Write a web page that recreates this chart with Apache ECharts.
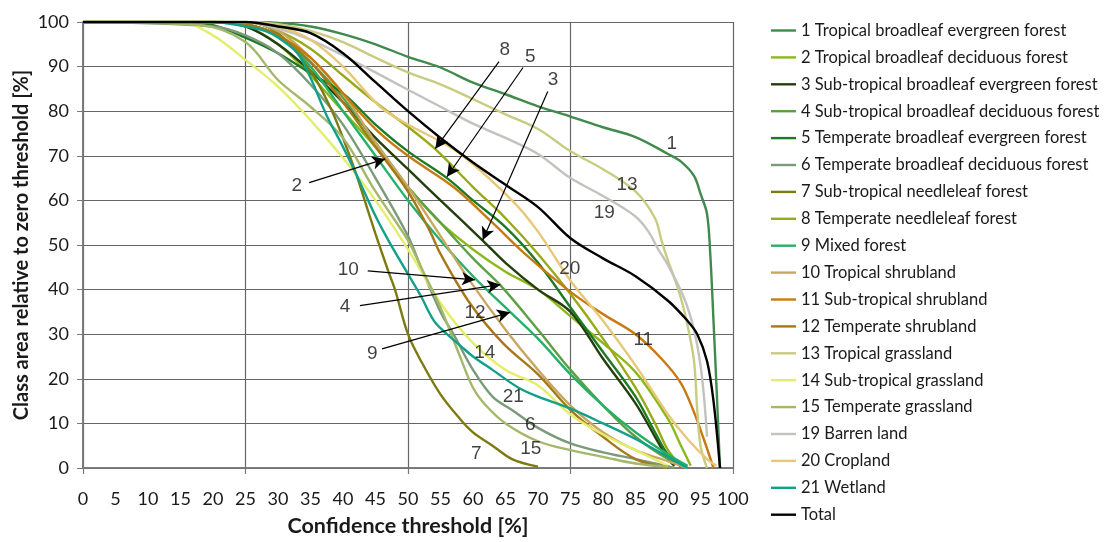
<!DOCTYPE html>
<html><head><meta charset="utf-8">
<script src="https://cdn.jsdelivr.net/npm/echarts@6/dist/echarts.min.js"></script>
<style>html,body{margin:0;padding:0;background:#fff}#c{width:1111px;height:542px}</style>
</head><body><div id="c"></div>
<script>
// x = confidence threshold [%], y = class area relative to zero threshold [%]
const s1 = [[0,100],[25,100],[30,99.8],[35,99],[40,97.3],[45,95],[50,92.2],[55,89.8],[60,86.4],[65,83.8],[70,81.1],[75,78.8],[80,76.4],[85,74.2],[90,70.4],[92,68.7],[94,65.5],[95,61.5],[96,57],[96.5,48],[97,33],[97.5,17],[98,0]];
const s2 = [[0,100],[20,100],[25,99],[30,95],[35,88],[40,80],[45,72],[46.5,69.3],[50,63],[55,55],[60,49],[65,44],[70,40],[75,34],[80,28],[85,21.5],[90,11],[92,5],[93.5,0.5]];
const s3 = [[0,100],[20,100],[25,99],[30,95],[35,89],[40,82],[45,74],[50,67],[55,60],[61.5,51],[65,46],[70,40],[75,35],[80,24.5],[85,14.5],[88,7],[90,2],[91,0.5]];
const s4 = [[0,100],[20,100],[25,99.5],[30,97],[35,91],[40,83],[45,73],[50,63],[55,55],[60,47],[64.2,41],[70,31],[75,22],[80,14],[85,7],[90,2],[93,0.3]];
const s5 = [[0,100],[15,100],[20,99.3],[25,96.5],[30,93],[35,88.5],[40,84],[45,77],[50,71],[56,65],[60,60],[65,54],[70,46],[75,36],[80,26],[85,16],[88,8],[90,3],[92,0.3]];
const s6 = [[0,100],[20,99],[25,97],[30,93],[35,86],[40,77],[45,65],[50,52],[52,45],[55,35],[57,30],[60,22],[63,16],[66,13],[70,9],[75,5.5],[80,3.5],[85,2],[88,1],[91,0]];
const s7 = [[0,100],[25,100],[30,97.5],[35,89],[38,81],[40,74],[42,66],[44,57],[45,52.5],[47,44],[48,40],[50,30],[52,24],[55,16.5],[58,11],[60,8],[63,5],[66,2],[70,0.3]];
const s8 = [[0,100],[25,100],[30,98],[35,94],[40,88],[45,82],[50,76.5],[54.2,71.5],[60,63],[65,56],[70,48],[75,39],[80,29],[85,18],[88,10],[90,4],[92,0.5]];
const s9 = [[0,100],[20,100],[25,99.5],[30,97],[35,90],[40,80],[45,70],[50,60],[55,51],[60,43],[65.7,35],[70,29],[75,21],[80,14],[85,8],[90,3],[93,0.5]];
const s10 = [[0,100],[25,100],[30,98],[35,92],[40,84],[45,73],[50,63],[55,52],[59.5,42],[65,31],[70,22],[75,14],[80,8],[85,4],[90,1.5],[93,0]];
const s11 = [[0,100],[20,100],[25,99.5],[30,97],[35,92],[40,84],[45,76],[50,70],[57,63],[63,55],[68,48],[75,39.5],[80,34.5],[85,30],[89,24.5],[92,19],[94,12.5],[95.5,6.5],[97,0]];
const s12 = [[0,100],[20,100],[25,99.5],[30,97],[35,91],[40,82],[45,72],[50,62],[53.4,53],[55,48],[59.5,37],[64.6,28],[70,21],[75,13],[80,7],[85,2],[90,0]];
const s13 = [[0,100],[25,100],[30,99.5],[35,98],[40,95.5],[45,92],[50,88.7],[55,86],[60,82.7],[65,79.3],[70,76],[75,71],[80,67],[85,62],[88,56],[89,51],[90,46.5],[91,42.5],[92,38],[93,32],[94,24],[94.5,13],[95,5],[96,0]];
const s14 = [[0,100],[15,100],[20,97],[25,91.5],[30,85.5],[35,78],[40,69.5],[45,60],[50,49],[55,37],[60,28],[65,22],[70,18.5],[75,12],[80,7.5],[85,4],[90,0.5]];
const s15 = [[0,100],[18,99.3],[25,95.5],[30,87],[35,81],[40,74],[45,62],[50,51],[52,45],[55,36],[58,25],[60,18],[62,14],[65,10],[70,6],[75,4],[80,2.5],[85,1],[90,0.3]];
const s19 = [[0,100],[25,100],[30,98.5],[35,96],[40,92.5],[45,88.7],[50,84.8],[55,81],[60,77.2],[65,74],[70,70.4],[75,65],[80,61],[85,56.4],[87,53],[88.5,49],[90,45.5],[92.5,38],[94,31],[95,23],[95.6,15],[96,7]];
const s20 = [[0,100],[25,100],[30,99],[35,96],[40,90],[45.7,81],[50,77],[57.5,71],[66,60],[70,53],[75,42],[80,33],[85,23],[90,12],[93,6.5],[96,2],[97.5,0.5]];
const s21 = [[0,100],[20,100],[25,99],[28,98],[30,96.5],[33,93],[35,87.5],[37.5,79],[40,72],[42,66],[45,56.5],[47,51],[50,43.5],[52,38.5],[54,33],[56,30],[58,27.5],[60,25],[63,22],[67,18],[70,16],[75,13.3],[80,10],[85,6.5],[90,2.5],[93,0]];
const sTotal = [[0,100],[25,100],[30,99],[35,97.5],[40,93],[45,86.5],[50,80],[55,74],[60,68.5],[65,63.5],[70,58.5],[75,51.5],[80,47],[85,43],[90,37.5],[93,33],[94.5,30],[96,24],[97,15],[98,0]];

const seriesNames = ['1 Tropical broadleaf evergreen forest','2 Tropical broadleaf deciduous forest','3 Sub-tropical broadleaf evergreen forest','4 Sub-tropical broadleaf deciduous forest','5 Temperate broadleaf evergreen forest','6 Temperate broadleaf deciduous forest','7 Sub-tropical needleleaf forest','8 Temperate needleleaf forest','9 Mixed forest','10 Tropical shrubland','11 Sub-tropical shrubland','12 Temperate shrubland','13 Tropical grassland','14 Sub-tropical grassland','15 Temperate grassland','19 Barren land','20 Cropland','21 Wetland','Total'];
const seriesData = [s1,s2,s3,s4,s5,s6,s7,s8,s9,s10,s11,s12,s13,s14,s15,s19,s20,s21,sTotal];
const seriesColors = ['#3f8a4c','#8cb81e','#243f0e','#5ca044','#1c7a22','#7a9a7a','#7d7a12','#98aa18','#26b06a','#c8a860','#c87a12','#a67818','#c8cc80','#e4ee6a','#a4b86c','#c2c2be','#e8c878','#12a08a','#000000'];

const xTicks = [0,5,10,15,20,25,30,35,40,45,50,55,60,65,70,75,80,85,90,95,100];
const yTicks = [0,10,20,30,40,50,60,70,80,90,100];

// curve labels placed in data coordinates
const curveLabels = [['1',90.6,72.7],['13',83.7,63.6],['19',80.2,57.3],['20',74.9,44.7],['11',86.2,28.7],['12',60.3,34.9],['14',61.8,25.8],['21',66.2,16],['6',68.8,9.8],['15',68.9,4.4],['7',60.5,3.3],
  ['8',64.9,93.8],['5',68.8,92.2],['3',72.3,87.1],['2',32.9,63.3],['10',40.8,44.4],['4',40.3,36.2],['9',44.5,25.6]];
// arrows: from label to curve, in data coordinates
const arrows = [[64,91.1,54.2,71.6],[67.7,89.8,56,65.3],[71.5,84.4,61.5,51.1],[34.8,64,46.5,69.3],[43.8,44.2,60.3,42.2],[42.6,36.4,64.2,41.1],[46,26.7,65.7,34.9]];

const font = 'Lato';
const chart = echarts.init(document.getElementById('c'), null, {renderer:'canvas'});
const series = seriesData.map((d,i)=>({
  name: seriesNames[i], type:'line', data:d, xAxisIndex:0, yAxisIndex:0,
  smooth:0.35, symbol:'none', lineStyle:{width:2.4,color:seriesColors[i]}, itemStyle:{color:seriesColors[i]},
  z: i===seriesData.length-1 ? 5 : 3, animation:false
}));
series.push({
  type:'scatter', xAxisIndex:0, yAxisIndex:0, symbolSize:0, silent:true, animation:false, z:6,
  data: curveLabels.map(l=>({value:[l[1],l[2]], label:{formatter:l[0]}})),
  label:{show:true, position:'inside', color:'#111', fontFamily:'Liberation Sans', fontSize:19}
});
series.push({
  type:'line', xAxisIndex:0, yAxisIndex:0, data:[], silent:true, animation:false, z:6,
  markLine:{symbol:['none','arrow'], symbolSize:[10,13], silent:true, animation:false,
    lineStyle:{color:'#000',width:1.2,type:'solid'}, label:{show:false},
    data: arrows.map(a=>[{coord:[a[0],a[1]]},{coord:[a[2],a[3]]}])}
});

chart.setOption({
  backgroundColor:'#fff',
  animation:false,
  grid:{left:83, top:22, right:378, bottom:70, containLabel:false},
  legend:{
    data: seriesNames, orient:'vertical', left:766, top:17, itemWidth:25, itemHeight:14, itemGap:9.9,
    textStyle:{fontFamily:font, fontSize:16.5, lineHeight:16.5, color:'#1a1a1a'}, icon:'path://M0,6 L26,6 L26,8.5 L0,8.5 Z', selectedMode:false
  },
  xAxis:[
    {type:'value', min:0, max:100, interval:5, position:'bottom',
     axisLine:{show:true,lineStyle:{color:'#777',width:1.5}}, axisTick:{show:false},
     axisLabel:{color:'#1a1a1a',fontFamily:font,fontSize:18,margin:22,customValues:xTicks},
     splitLine:{show:false},
     name:'Confidence threshold [%]', nameLocation:'middle', nameGap:47,
     nameTextStyle:{fontFamily:font,fontSize:21.5,fontWeight:'bold',color:'#1a1a1a'}},
    {type:'value', min:0, max:100, interval:25, position:'top',
     axisLine:{show:true,lineStyle:{color:'#777',width:1.5}}, axisTick:{show:false}, axisLabel:{show:false},
     splitLine:{show:true,lineStyle:{color:'#666',width:1.2}}},
    {type:'value', min:0, max:100, interval:25, position:'bottom',
     axisLine:{show:false}, axisTick:{show:true,length:6,lineStyle:{color:'#777',width:1.2}}, axisLabel:{show:false}, splitLine:{show:false}}
  ],
  yAxis:[
    {type:'value', min:0, max:100, interval:10, position:'left',
     axisLine:{show:true,lineStyle:{color:'#777',width:1.5}}, axisTick:{show:true,length:6,lineStyle:{color:'#777'}},
     axisLabel:{color:'#1a1a1a',fontFamily:font,fontSize:18,margin:14},
     splitLine:{show:true,lineStyle:{color:'#666',width:1.2}},
     name:'Class area relative to zero threshold [%]', nameLocation:'middle', nameGap:51, nameMoveOverlap:false,
     nameTextStyle:{fontFamily:font,fontSize:20,fontWeight:'bold',color:'#1a1a1a'}},
    {type:'value', min:0, max:100, interval:10, position:'right',
     axisLine:{show:true,lineStyle:{color:'#777',width:1.5}}, axisTick:{show:false}, axisLabel:{show:false}, splitLine:{show:false}}
  ],
  series: series
});
</script></body></html>
